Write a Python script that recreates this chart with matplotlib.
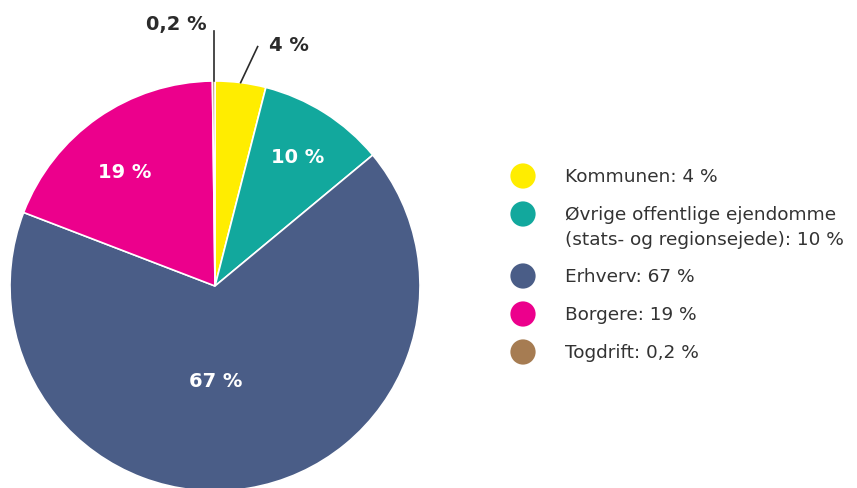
import numpy as np
import matplotlib
matplotlib.use("Agg")
import matplotlib.pyplot as plt

categories = ["Kommunen", "Øvrige offentlige ejendomme\n(stats- og regionsejede)", "Erhverv", "Borgere", "Togdrift"]
values = [4, 10, 67, 19, 0.2]
value_labels = ["4 %", "10 %", "67 %", "19 %", "0,2 %"]
colors = ["#FFED00", "#12A89D", "#4A5D87", "#EC008C", "#A67C52"]

W, H = 857, 489
fig = plt.figure(figsize=(W / 100, H / 100), dpi=100)
ax = fig.add_axes([0, 0, 1, 1])

cx, cy, R = 215, 202, 205
wedges, _ = ax.pie(values, colors=colors, startangle=90, counterclock=False,
                   center=(cx, cy), radius=R, frame=True,
                   wedgeprops=dict(edgecolor="white", linewidth=1.2))
ax.set_xlim(0, W)
ax.set_ylim(0, H)
ax.set_aspect("equal")
ax.axis("off")

def mid_angle(w):
    return np.deg2rad((w.theta1 + w.theta2) / 2)

# inside labels: (index, radial fraction, angle offset in degrees)
inside = [(1, 0.75, 0.0), (2, 0.46, -8.8), (3, 0.71, 3.4)]
for i, rf, off in inside:
    a = mid_angle(wedges[i]) + np.deg2rad(off)
    ax.text(cx + rf * R * np.cos(a), cy + rf * R * np.sin(a), value_labels[i],
            ha="center", va="center", color="white", fontsize=14,
            fontweight="bold", family="DejaVu Sans")

lab_col = "#2b2b2b"
# Kommunen 4 %
a = mid_angle(wedges[0])
x0, y0 = cx + R * np.cos(a), cy + R * np.sin(a)
x1, y1 = x0 + 17, y0 + 36
ax.plot([x0, x1], [y0, y1], color=lab_col, lw=1.2)
ax.text(x1 + 11, y1 + 2, value_labels[0], ha="left", va="center", color=lab_col,
        fontsize=14, fontweight="bold", family="DejaVu Sans")
# Togdrift 0,2 %
a = mid_angle(wedges[4])
x0, y0 = cx + R * np.cos(a), cy + R * np.sin(a)
x1, y1 = x0, y0 + 50
ax.plot([x0, x1], [y0, y1], color=lab_col, lw=1.2)
ax.text(x1 - 7, y1 + 8, value_labels[4], ha="right", va="center", color=lab_col,
        fontsize=14, fontweight="bold", family="DejaVu Sans")

# legend
leg_y = [312, 274, 212, 174, 136]
fs = 13.3
for i, (cat, lab) in enumerate(zip(categories, value_labels)):
    ax.scatter([523], [leg_y[i]], s=330, color=colors[i], edgecolors="none", zorder=3)
    if "\n" in cat:
        l1, l2 = cat.split("\n")
        ax.text(565, leg_y[i], l1, ha="left", va="center", fontsize=fs,
                color="#333333", family="DejaVu Sans")
        ax.text(565, leg_y[i] - 25, f"{l2}: {lab}", ha="left", va="center",
                fontsize=fs, color="#333333", family="DejaVu Sans")
    else:
        ax.text(565, leg_y[i], f"{cat}: {lab}", ha="left", va="center",
                fontsize=fs, color="#333333", family="DejaVu Sans")

fig.savefig("out.png", dpi=100)
